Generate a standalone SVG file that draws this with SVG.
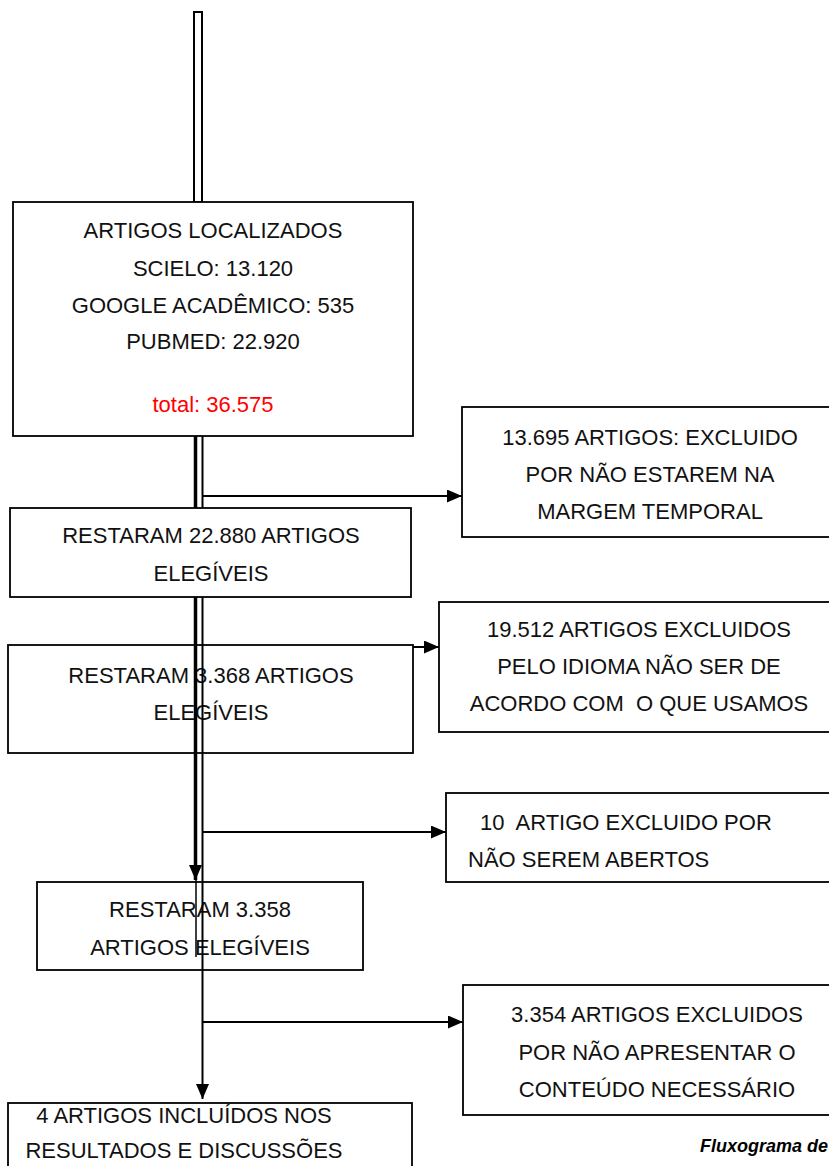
<svg xmlns="http://www.w3.org/2000/svg" width="829" height="1166" viewBox="0 0 829 1166">
<style>
.box{fill:#fff;stroke:#000;stroke-width:1.8}
.t{font-family:"Liberation Sans",Arial,sans-serif;font-size:22px;fill:#111;text-anchor:middle;white-space:pre}
.ts{text-anchor:start}
.red{fill:#f00}
.ln{stroke:#000;stroke-width:2;fill:none}
.cap{font-family:"Liberation Sans",Arial,sans-serif;font-size:18px;font-weight:bold;font-style:italic;fill:#000}
</style>
<defs>
<marker id="ah" markerUnits="userSpaceOnUse" markerWidth="16" markerHeight="14" refX="15" refY="6.5" orient="auto">
<path d="M0,0 L15,6.5 L0,13 z" fill="#000"/>
</marker>
</defs>
<rect width="829" height="1166" fill="#fff"/>

<g id="n-restaram-3368">
<rect class="box" x="8" y="645" width="405" height="108"/>
<text class="t" x="211" y="683">RESTARAM 3.368 ARTIGOS</text>
<text class="t" x="211" y="720">ELEGÍVEIS</text>
</g>
<g id="n-restaram-3358">
<rect class="box" x="37" y="882" width="326" height="88"/>
<text class="t" x="200" y="917">RESTARAM 3.358</text>
<text class="t" x="200" y="955">ARTIGOS ELEGÍVEIS</text>
</g>
<g id="n-incluidos">
<rect class="box" x="8" y="1103" width="404" height="90"/>
<text class="t" x="184" y="1123">4 ARTIGOS INCLUÍDOS NOS</text>
<text class="t" x="184" y="1158">RESULTADOS E DISCUSSÕES</text>
</g>

<g id="connectors">
<rect x="194" y="12" width="8" height="190" fill="#fff" stroke="#000" stroke-width="2"/>
<line x1="195.5" y1="436" x2="195.5" y2="880" stroke="#000" stroke-width="3.5" marker-end="url(#ah)"/>
<line x1="196" y1="880" x2="196" y2="957" stroke="#000" stroke-width="1.5"/>
<line class="ln" x1="202.5" y1="436" x2="202.5" y2="1099" marker-end="url(#ah)"/>
<line class="ln" x1="202.5" y1="496" x2="462" y2="496" marker-end="url(#ah)"/>
<line class="ln" x1="413" y1="647" x2="439" y2="647" marker-end="url(#ah)"/>
<line class="ln" x1="202.5" y1="832" x2="446" y2="832" marker-end="url(#ah)"/>
<line class="ln" x1="202.5" y1="1022" x2="463" y2="1022" marker-end="url(#ah)"/>
</g>

<g id="n-localizados">
<rect class="box" x="13" y="202" width="400" height="234"/>
<text class="t" x="213" y="238">ARTIGOS LOCALIZADOS</text>
<text class="t" x="213" y="276">SCIELO: 13.120</text>
<text class="t" x="213" y="313">GOOGLE ACADÊMICO: 535</text>
<text class="t" x="213" y="349">PUBMED: 22.920</text>
<text class="t red" x="213" y="412">total: 36.575</text>
</g>
<g id="n-restaram-22880">
<rect class="box" x="10" y="508" width="401" height="89"/>
<text class="t" x="211" y="543">RESTARAM 22.880 ARTIGOS</text>
<text class="t" x="211" y="581">ELEGÍVEIS</text>
</g>
<g id="n-excl-temporal">
<rect class="box" x="462" y="407" width="380" height="130"/>
<text class="t" x="650" y="445">13.695 ARTIGOS: EXCLUIDO</text>
<text class="t" x="650" y="482">POR NÃO ESTAREM NA</text>
<text class="t" x="650" y="519">MARGEM TEMPORAL</text>
</g>
<g id="n-excl-idioma">
<rect class="box" x="439" y="602" width="403" height="130"/>
<text class="t" x="639" y="637">19.512 ARTIGOS EXCLUIDOS</text>
<text class="t" x="639" y="674">PELO IDIOMA NÃO SER DE</text>
<text class="t" x="639" y="711">ACORDO COM  O QUE USAMOS</text>
</g>
<g id="n-excl-abertos">
<rect class="box" x="446" y="793" width="396" height="89"/>
<text class="t ts" x="480" y="830">10  ARTIGO EXCLUIDO POR</text>
<text class="t ts" x="468" y="867">NÃO SEREM ABERTOS</text>
</g>
<g id="n-excl-conteudo">
<rect class="box" x="463" y="985" width="400" height="130"/>
<text class="t" x="657" y="1022">3.354 ARTIGOS EXCLUIDOS</text>
<text class="t" x="657" y="1060">POR NÃO APRESENTAR O</text>
<text class="t" x="657" y="1097">CONTEÚDO NECESSÁRIO</text>
</g>
<text class="cap" x="700" y="1152">Fluxograma de</text>
</svg>
